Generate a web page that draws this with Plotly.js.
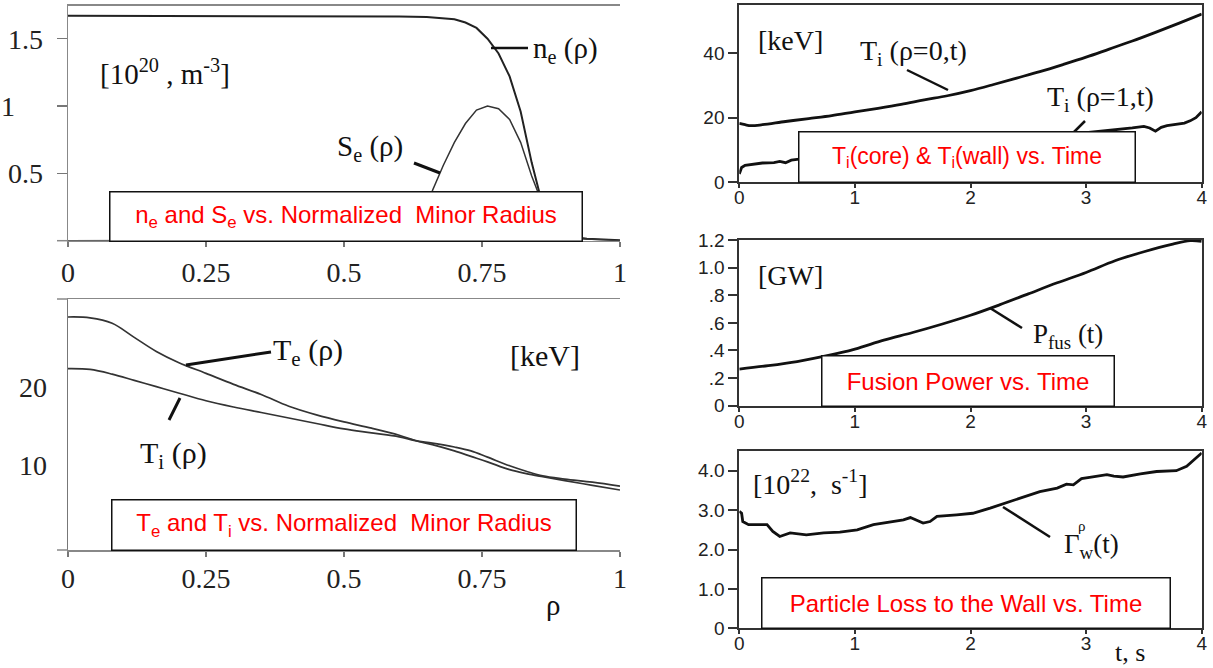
<!DOCTYPE html>
<html>
<head>
<meta charset="utf-8">
<script src="https://cdn.plot.ly/plotly-3.0.1.min.js"></script>
<style>html,body{margin:0;padding:0;background:#fff;}#chart{width:1213px;height:668px;}</style>
</head>
<body>
<div id="chart"></div>
<script>
// ---------- DATA ----------
// Top-left: density and source profiles vs normalized minor radius
const rhoNe = [0, 0.1, 0.2, 0.3, 0.4, 0.5, 0.6, 0.65, 0.68, 0.70, 0.72, 0.74, 0.76, 0.78, 0.80, 0.82, 0.84, 0.86, 0.88, 0.90, 0.92, 0.94, 0.97, 1.0];
const neVals = [1.67, 1.67, 1.665, 1.665, 1.665, 1.665, 1.665, 1.662, 1.655, 1.645, 1.62, 1.58, 1.5, 1.39, 1.22, 0.96, 0.58, 0.26, 0.11, 0.05, 0.025, 0.015, 0.008, 0.003];
const rhoSe = [0, 0.1, 0.2, 0.3, 0.4, 0.5, 0.55, 0.6, 0.63, 0.66, 0.68, 0.70, 0.72, 0.74, 0.76, 0.78, 0.80, 0.82, 0.84, 0.86, 0.88, 0.90, 0.93, 1.0];
const seVals = [0, 0, 0, 0, 0, 0.005, 0.03, 0.12, 0.23, 0.37, 0.56, 0.73, 0.87, 0.97, 1.0, 0.98, 0.9, 0.73, 0.48, 0.27, 0.12, 0.05, 0.015, 0.0];

// Bottom-left: temperature profiles
const rhoT = [0, 0.04, 0.08, 0.12, 0.16, 0.2, 0.25, 0.3, 0.35, 0.4, 0.45, 0.5, 0.55, 0.6, 0.63, 0.66, 0.7, 0.73, 0.76, 0.8, 0.83, 0.86, 0.9, 0.95, 1.0];
const teVals = [28.9, 28.8, 28.1, 26.3, 24.5, 23.1, 21.7, 20.3, 19.0, 17.5, 16.4, 15.5, 14.7, 13.8, 13.1, 12.6, 11.8, 11.1, 10.4, 9.4, 8.9, 8.5, 8.0, 7.4, 6.8];
const tiVals = [22.3, 22.2, 21.6, 20.8, 20.0, 19.2, 18.2, 17.4, 16.7, 16.0, 15.3, 14.6, 14.1, 13.6, 13.1, 12.8, 12.3, 11.8, 11.0, 9.9, 9.2, 8.6, 8.2, 7.8, 7.3];

// Right 1: ion temperature at core and wall vs time
const tCore = [0, 0.05, 0.1, 0.2, 0.4, 0.6, 0.8, 1.0, 1.2, 1.4, 1.6, 1.8, 2.0, 2.2, 2.4, 2.6, 2.8, 3.0, 3.2, 3.4, 3.6, 3.8, 4.0];
const tiCore = [18.2, 17.8, 17.5, 17.8, 18.8, 19.7, 20.6, 21.8, 22.9, 24.1, 25.5, 26.8, 28.4, 30.3, 32.3, 34.3, 36.5, 38.8, 41.3, 43.8, 46.5, 49.3, 52.2];
const tWall = [0, 0.02, 0.05, 0.1, 0.2, 0.3, 0.35, 0.4, 0.45, 0.5, 0.6, 0.8, 1.0, 1.2, 1.4, 1.6, 1.8, 2.0, 2.2, 2.4, 2.6, 2.8, 3.0, 3.2, 3.4, 3.5, 3.55, 3.6, 3.65, 3.7, 3.8, 3.85, 3.9, 3.95, 4.0];
const tiWall = [2.5, 4.5, 5.2, 5.5, 5.9, 6.0, 6.4, 6.0, 6.8, 7.0, 7.3, 8.0, 8.6, 9.3, 10.0, 10.8, 11.6, 12.3, 13.0, 13.6, 14.3, 14.9, 15.3, 16.0, 16.8, 17.3, 16.8, 15.8, 17.0, 17.5, 18.0, 18.3, 19.0, 20.0, 21.8];

// Right 2: fusion power vs time
const tFus = [0, 0.25, 0.5, 0.75, 1, 1.25, 1.5, 1.75, 2, 2.25, 2.5, 2.75, 3, 3.25, 3.5, 3.75, 3.9, 4.0];
const pFus = [0.265, 0.29, 0.32, 0.36, 0.41, 0.475, 0.53, 0.59, 0.655, 0.73, 0.81, 0.89, 0.965, 1.05, 1.115, 1.17, 1.195, 1.19];

// Right 3: particle loss to the wall vs time
const tGam = [0, 0.02, 0.03, 0.08, 0.24, 0.29, 0.35, 0.44, 0.58, 0.73, 0.87, 1.02, 1.16, 1.30, 1.42, 1.48, 1.59, 1.65, 1.71, 1.88, 2.02, 2.17, 2.26, 2.34, 2.46, 2.60, 2.75, 2.83, 2.89, 2.96, 3.03, 3.18, 3.24, 3.32, 3.47, 3.61, 3.78, 3.87, 4.0];
const gamVals = [2.97, 2.92, 2.71, 2.63, 2.63, 2.46, 2.33, 2.42, 2.37, 2.42, 2.44, 2.5, 2.63, 2.69, 2.75, 2.81, 2.67, 2.71, 2.84, 2.88, 2.92, 3.05, 3.14, 3.22, 3.35, 3.47, 3.56, 3.66, 3.64, 3.80, 3.83, 3.90, 3.86, 3.84, 3.92, 3.98, 4.0, 4.11, 4.45];

// Tick labels
const rhoTicks = [0, 0.25, 0.5, 0.75, 1];
const rhoTickText = ['0', '0.25', '0.5', '0.75', '1'];
const neTicks = [0.5, 1, 1.5];
const neTickText = ['0.5', '1\u00a0\u00a0\u00a0\u00a0', '1.5'];
const tTicksL = [10, 20];
const tTickTextL = ['10', '20'];
const timeTicks = [0, 1, 2, 3, 4];
const timeTickText = ['0', '1', '2', '3', '4'];
const tiTicks = [0, 20, 40];
const tiTickText = ['0', '20', '40'];
const pTicks = [0, 0.2, 0.4, 0.6, 0.8, 1.0, 1.2];
const pTickText = ['0', '.2', '.4', '.6', '.8', '1.0', '1.2'];
const gTicks = [0, 1, 2, 3, 4];
const gTickText = ['0', '1.0', '2.0', '3.0', '4.0'];

// ---------- LAYOUT HELPERS ----------
const W = 1213, H = 668;
const px = x => x / W;
const py = y => 1 - y / H;
const SERIF = '"Liberation Serif", "Times New Roman", serif';
const SANS = '"Liberation Sans", Arial, sans-serif';

const leftAxisX = (dom, standoff) => ({
  domain: dom, range: [0, 1], tickvals: rhoTicks, ticktext: rhoTickText,
  ticks: 'outside', ticklen: 5, tickcolor: '#777', tickwidth: 1.5,
  showline: true, linecolor: '#888', linewidth: 1.5, mirror: true,
  showgrid: false, zeroline: false, ticklabelstandoff: standoff,
  tickfont: {family: SERIF, size: 28, color: '#222'}
});
const rightAxisX = (anchor) => ({
  domain: [px(739.3), px(1201.7)], range: [0, 4], anchor: anchor,
  tickvals: timeTicks, ticktext: timeTickText,
  ticks: 'outside', ticklen: 4, tickcolor: '#333', tickwidth: 2,
  showline: true, linecolor: '#333', linewidth: 2, mirror: true,
  showgrid: false, zeroline: false, ticklabelstandoff: -7,
  tickfont: {family: SANS, size: 19, color: '#222'}
});
const rightAxisY = (dom, range, vals, text, anchor) => ({
  domain: dom, range: range, anchor: anchor, tickvals: vals, ticktext: text,
  ticks: 'outside', ticklen: 9, tickcolor: '#333', tickwidth: 2,
  showline: true, linecolor: '#333', linewidth: 2, mirror: true,
  showgrid: false, zeroline: false, ticklabelstandoff: 0,
  tickfont: {family: SANS, size: 19, color: '#222'}
});

const traces = [
  {x: rhoNe, y: neVals, xaxis: 'x', yaxis: 'y', mode: 'lines', line: {color: '#222', width: 2}},
  {x: rhoSe, y: seVals, xaxis: 'x', yaxis: 'y', mode: 'lines', line: {color: '#333', width: 1.5}},
  {x: rhoT, y: teVals, xaxis: 'x2', yaxis: 'y2', mode: 'lines', line: {color: '#333', width: 1.7, shape: 'spline'}},
  {x: rhoT, y: tiVals, xaxis: 'x2', yaxis: 'y2', mode: 'lines', line: {color: '#333', width: 1.7, shape: 'spline'}},
  {x: tCore, y: tiCore, xaxis: 'x3', yaxis: 'y3', mode: 'lines', line: {color: '#111', width: 2.8, shape: 'spline'}},
  {x: tWall, y: tiWall, xaxis: 'x3', yaxis: 'y3', mode: 'lines', line: {color: '#111', width: 2.8}},
  {x: tFus, y: pFus, xaxis: 'x4', yaxis: 'y4', mode: 'lines', line: {color: '#111', width: 2.8, shape: 'spline'}},
  {x: tGam, y: gamVals, xaxis: 'x5', yaxis: 'y5', mode: 'lines', line: {color: '#111', width: 2.8}}
];

function lbl(x, y, text, size, family, extra) {
  return Object.assign({xref: 'paper', yref: 'paper', x: px(x), y: py(y), text: text, showarrow: false,
    xanchor: 'center', yanchor: 'middle', font: {family: family || SERIF, size: size || 27, color: '#111'}}, extra || {});
}
function box(cx, cy, w, h, text, size) {
  return {xref: 'paper', yref: 'paper', x: px(cx), y: py(cy), text: text, showarrow: false,
    xanchor: 'center', yanchor: 'middle', width: w, height: h, bgcolor: '#fff',
    bordercolor: '#111', borderwidth: 1.5, borderpad: 0,
    font: {family: SANS, size: size || 24, color: '#ff0000'}};
}
function seg(x0, y0, x1, y1, w, c) {
  return {type: 'line', xref: 'paper', yref: 'paper', x0: px(x0), y0: py(y0), x1: px(x1), y1: py(y1),
    line: {color: c || '#111', width: w || 2.5}, layer: 'above'};
}

const layout = {
  width: W, height: H, margin: {l: 0, r: 0, t: 0, b: 0},
  paper_bgcolor: '#fff', plot_bgcolor: 'rgba(0,0,0,0)', showlegend: false,
  font: {family: SERIF, color: '#111'},
  xaxis: Object.assign(leftAxisX([px(68), px(620)], 1), {anchor: 'y'}),
  yaxis: {domain: [py(240.7), py(5.7)], range: [0, 1.745], anchor: 'x',
    tickvals: neTicks, ticktext: neTickText, ticks: 'outside', ticklen: 10, tickcolor: '#777', tickwidth: 1.5,
    showline: true, linecolor: '#888', linewidth: 1.5, mirror: false, showgrid: false, zeroline: false,
    ticklabelstandoff: 8, tickfont: {family: SERIF, size: 28, color: '#222'}},
  xaxis2: Object.assign(leftAxisX([px(68), px(620)], -2), {anchor: 'y2'}),
  yaxis2: {domain: [py(550), py(299)], range: [-0.86, 31.2], anchor: 'x2',
    tickvals: tTicksL, ticktext: tTickTextL, ticks: '', ticklen: 0,
    showline: true, linecolor: '#777', linewidth: 1.5, mirror: false, showgrid: false, zeroline: false,
    ticklabelstandoff: 14, tickfont: {family: SERIF, size: 28, color: '#222'}},
  xaxis3: rightAxisX('y3'),
  yaxis3: rightAxisY([py(182), py(5)], [0, 55], tiTicks, tiTickText, 'x3'),
  xaxis4: rightAxisX('y4'),
  yaxis4: rightAxisY([py(405.7), py(240)], [0, 1.2], pTicks, pTickText, 'x4'),
  xaxis5: rightAxisX('y5'),
  yaxis5: rightAxisY([py(628.3), py(451)], [0, 4.5], gTicks, gTickText, 'x5'),
  shapes: [
    // small axis-line extensions left of the left panels
    seg(57, 240.7, 68, 240.7, 1.5, '#888'),
    seg(57, 299, 68, 299, 1.5, '#888'),
    seg(57, 550, 68, 550, 1.5, '#888'),
    // leader lines
    seg(491, 48, 528, 48, 2.5),
    seg(414, 163, 440, 173, 3),
    seg(186, 365, 271, 352, 3),
    seg(169, 420, 180, 398, 3),
    seg(907, 70, 948, 90, 2.5),
    seg(1085, 121, 1073, 133, 2.5),
    seg(990, 308, 1022, 328, 2.5),
    seg(1003, 507, 1050, 537, 2.5)
  ],
  annotations: [
    // top-left
    lbl(165, 72, '[10<sup>20</sup> , m<sup>-3</sup>]', 29),
    lbl(565, 50, 'n<sub>e</sub> (ρ)', 29),
    lbl(370, 148, 'S<sub>e</sub> (ρ)', 29),
    box(346, 216, 471, 48, 'n<sub>e</sub> and S<sub>e</sub> vs. Normalized\u00a0 Minor Radius'),
    // bottom-left
    lbl(308, 352, 'T<sub>e</sub> (ρ)', 30),
    lbl(173, 455, 'T<sub>i</sub> (ρ)', 30),
    lbl(545, 355, '[keV]', 30),
    box(344, 525, 463, 49, 'T<sub>e</sub> and T<sub>i</sub> vs. Normalized\u00a0 Minor Radius'),
    lbl(553, 605, 'ρ', 29),
    // right 1
    lbl(790, 40, '[keV]', 28),
    lbl(913, 52, 'T<sub>i</sub> (ρ=0,t)', 28),
    lbl(1100, 98, 'T<sub>i</sub> (ρ=1,t)', 28),
    box(967, 157, 335, 49, 'T<sub>i</sub>(core) &amp; T<sub>i</sub>(wall) vs. Time', 23),
    // right 2
    lbl(790, 275, '[GW]', 28),
    lbl(1068, 336, 'P<sub>fus</sub> (t)', 27),
    box(968, 381, 291, 49, 'Fusion Power vs. Time'),
    // right 3
    lbl(810, 482, '[10<sup>22</sup>,  s<sup>-1</sup>]', 28),
    lbl(1091, 546, 'Γ<sub>w</sub>(t)', 27),
    lbl(1082, 526, 'ρ', 15),
    box(966, 603, 407, 49, 'Particle Loss to the Wall vs. Time'),
    lbl(1130, 652, 't, s', 26)
  ]
};

Plotly.newPlot('chart', traces, layout, {staticPlot: true, displayModeBar: false});
</script>
</body>
</html>
